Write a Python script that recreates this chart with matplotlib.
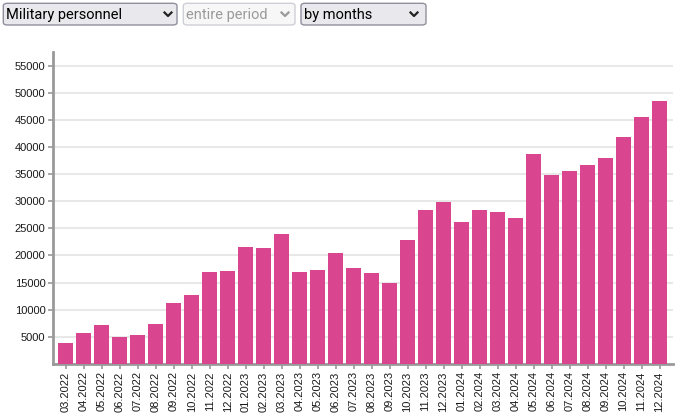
import matplotlib
matplotlib.use("Agg")
import matplotlib.pyplot as plt
from matplotlib.patches import FancyBboxPatch
from matplotlib.lines import Line2D

months = ["03.2022", "04.2022", "05.2022", "06.2022", "07.2022", "08.2022", "09.2022",
          "10.2022", "11.2022", "12.2022", "01.2023", "02.2023", "03.2023", "04.2023",
          "05.2023", "06.2023", "07.2023", "08.2023", "09.2023", "10.2023", "11.2023",
          "12.2023", "01.2024", "02.2024", "03.2024", "04.2024", "05.2024", "06.2024",
          "07.2024", "08.2024", "09.2024", "10.2024", "11.2024", "12.2024"]
personnel = [3820, 5670, 7150, 4930, 5300, 7330, 11210, 12690, 16940, 17130,
             21560, 21380, 23960, 16940, 17310, 20450, 17680, 16790, 14940, 22870,
             28400, 29870, 26180, 28400, 28030, 26920, 38750, 34870, 35610, 36720,
             38010, 41890, 45590, 48540]
y_ticks = [5000, 10000, 15000, 20000, 25000, 30000, 35000, 40000, 45000, 50000, 55000]
dropdowns = ["Military personnel", "entire period", "by months"]

W, H = 680, 420
fig = plt.figure(figsize=(W / 100, H / 100), dpi=100)
fig.patch.set_facecolor("white")

left, right, top, bottom = 52.5, 673, 52, 363.7
ax = fig.add_axes([left / W, 1 - bottom / H, (right - left) / W, (bottom - top) / H])

bar_color = "#d9468f"
axis_color = "#999999"
x = list(range(len(months)))
ax.bar(x, personnel, width=0.8, color=bar_color, zorder=3)
ax.set_xlim(-0.73, len(months) - 1 + 0.75)
ax.set_ylim(0, 57600)

ax.set_yticks(y_ticks)
ax.set_yticklabels([str(v) for v in y_ticks])
ax.set_xticks(x)
ax.set_xticklabels(months, rotation=90)

ax.grid(axis="y", color="#e8e8e8", linewidth=1.5, zorder=0)
ax.set_axisbelow(True)
for s in ["top", "right"]:
    ax.spines[s].set_visible(False)
for s in ["left", "bottom"]:
    ax.spines[s].set_color(axis_color)
    ax.spines[s].set_linewidth(2)
ax.tick_params(axis="both", colors=axis_color, labelcolor="#1a1a1a", length=3.5,
               width=1.2, labelsize=8)
ax.tick_params(axis="y", pad=1.5)
ax.tick_params(axis="x", pad=2)
for lab in ax.get_xticklabels() + ax.get_yticklabels():
    lab.set_fontfamily("Liberation Sans")

ui_font = dict(family="Roboto", fontsize=10.5)


def fx(px):
    return px / W


def fy(py):
    return 1 - py / H


boxes = [(3.3, 177, "#e9e9ed", "#8f8f9d", "#000000", 168),
         (183.3, 295, "#f7f7f8", "#cfcfd6", "#9a9a9a", 285),
         (301, 426, "#e9e9ed", "#8f8f9d", "#000000", 414)]
for (x0, x1, fc, ec, tc, cx), label in zip(boxes, dropdowns):
    y0, y1 = 3.3, 25
    p = FancyBboxPatch((fx(x0), fy(y1)), fx(x1 - x0), (y1 - y0) / H,
                       boxstyle="round,pad=0,rounding_size=0.006",
                       transform=fig.transFigure, facecolor=fc, edgecolor=ec,
                       linewidth=1.0)
    fig.add_artist(p)
    fig.text(fx(x0 + 2.5), fy(14.5), label, color=tc, va="center", ha="left",
             **ui_font)
    chev_c = "#222222" if tc == "#000000" else "#9a9a9a"
    fig.add_artist(Line2D([fx(cx - 3.5), fx(cx), fx(cx + 3.5)],
                          [fy(12.5), fy(16), fy(12.5)],
                          transform=fig.transFigure, color=chev_c, linewidth=1.6))

fig.savefig("out.png", dpi=100)
